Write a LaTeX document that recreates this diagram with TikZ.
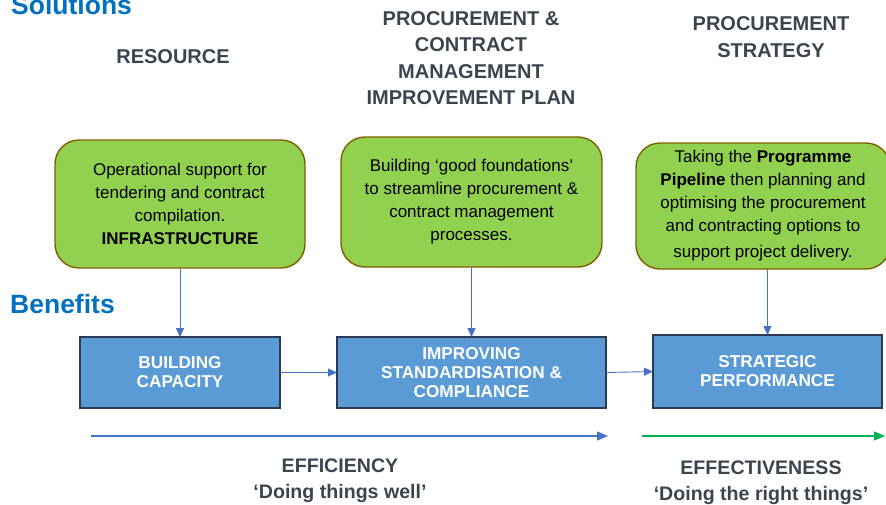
\documentclass[tikz,border=0pt]{standalone}
\usepackage{fontspec}
\setmainfont{Liberation Sans}
\usetikzlibrary{arrows.meta}
\definecolor{solblue}{HTML}{0070C0}
\definecolor{headgray}{HTML}{3A4550}
\definecolor{boxgreen}{HTML}{92D050}
\definecolor{greenborder}{HTML}{7F6000}
\definecolor{boxblue}{HTML}{5B9BD5}
\definecolor{blueborder}{HTML}{2A3A52}
\definecolor{arrowblue}{HTML}{4472C4}
\definecolor{arrowgreen}{HTML}{00B050}
\tikzset{
  section/.style={text=solblue, font=\bfseries\fontsize{26.5}{28}\selectfont, inner sep=0pt},
  heading/.style={text=headgray, font=\bfseries\fontsize{20}{26.5}\selectfont, align=center, inner sep=0pt},
  greenbox/.style={draw=greenborder, line width=1.4pt, fill=boxgreen, rounded corners=24pt, align=center, inner sep=0pt, outer sep=0pt, font=\fontsize{17}{23}\selectfont},
  bluebox/.style={draw=blueborder, line width=1.4pt, fill=boxblue, text=white, align=center, inner sep=0pt, outer sep=0pt, font=\bfseries\fontsize{17.2}{19}\selectfont},
  link/.style={draw=arrowblue, line width=0.9pt, -{Triangle[length=9pt,width=8pt]}},
  longarrow/.style={line width=1.2pt, -{Triangle[length=11pt,width=9pt]}},
  footer/.style={text=headgray, font=\bfseries\fontsize{19.6}{26}\selectfont, align=center, inner sep=0pt}
}
\begin{document}
\begin{tikzpicture}[x=1pt,y=-1pt]
\useasboundingbox (0,0) rectangle (886,504);
% section titles
\node[section, anchor=base west] (sol) at (11,14) {Solutions};
\node[section, anchor=base west] (ben) at (10,313) {Benefits};
% headings
\node[heading] (h1) at (173,57) {RESOURCE};
\node[heading] (h2) at (471,58) {PROCUREMENT \&\\CONTRACT\\MANAGEMENT\\IMPROVEMENT PLAN};
\node[heading] (h3) at (771,37) {PROCUREMENT\\STRATEGY};
% green boxes
\node[greenbox, minimum width=250pt, minimum height=128pt] (g1) at (180,204)
  {Operational support for\\tendering and contract\\compilation.\\\textbf{INFRASTRUCTURE}};
\node[greenbox, minimum width=261pt, minimum height=130pt] (g2) at (471.5,202)
  {Building ‘good foundations’\\to streamline procurement \&\\contract management\\processes.};
\node[greenbox, minimum width=254pt, minimum height=126pt] (g3) at (763,206)
  {Taking the \textbf{Programme}\\\textbf{Pipeline} then planning and\\optimising the procurement\\and contracting options to\\[3pt]support project delivery.};
% blue boxes
\node[bluebox, minimum width=200pt, minimum height=71pt] (b1) at (180,372.5) {BUILDING\\CAPACITY};
\node[bluebox, minimum width=269pt, minimum height=71pt] (b2) at (471.5,372.5) {IMPROVING\\STANDARDISATION \&\\COMPLIANCE};
\node[bluebox, minimum width=229pt, minimum height=73pt] (b3) at (767.5,371.5) {STRATEGIC\\PERFORMANCE};
% vertical links
\draw[link] (g1.south) -- (b1.north);
\draw[link] (g2.south) -- (b2.north);
\draw[link] (g3.south -| b3.north) -- (b3.north);
% horizontal links
\draw[link] (b1.east) -- (b2.west);
\draw[link] (b2.east) -- (b3.west);
% long arrows
\coordinate (e1s) at (91,436);
\coordinate (e1e) at (608,436);
\coordinate (e2s) at (642,436);
\coordinate (e2e) at (885,436);
\draw[longarrow, draw=arrowblue, fill=arrowblue] (e1s) -- (e1e);
\draw[longarrow, draw=arrowgreen, fill=arrowgreen] (e2s) -- (e2e);
% footers
\node[footer] (f1) at (340,481) {EFFICIENCY\\‘Doing things well’};
\node[footer] (f2) at (761,483) {EFFECTIVENESS\\‘Doing the right things’};
\end{tikzpicture}
\end{document}
